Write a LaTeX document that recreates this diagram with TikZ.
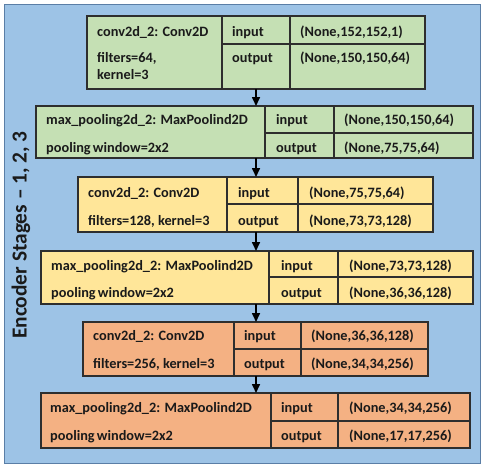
\documentclass[tikz,border=0pt]{standalone}
\usepackage{fontspec}
\setmainfont{Carlito}
\usetikzlibrary{arrows.meta}
\definecolor{bgblue}{HTML}{9DC3E6}
\definecolor{frameblue}{HTML}{5A7EA6}
\definecolor{cgreen}{HTML}{C5E0B4}
\definecolor{cyellow}{HTML}{FFE699}
\definecolor{corange}{HTML}{F4B183}
\definecolor{boxline}{HTML}{2E2E2E}
\definecolor{txt}{HTML}{1A1A1A}
\newcommand{\pw}{pooling\hspace{0.15em}window=2x2}
\begin{document}
\begin{tikzpicture}[x=1pt,y=-1pt,
  layer/.style={draw=boxline,line width=1.3pt,inner sep=0pt,outer sep=0pt,anchor=north west},
  div/.style={draw=boxline,line width=1.1pt},
  lbl/.style={inner sep=0pt,anchor=base west,text=txt,font=\fontsize{14.3}{17}\selectfont\bfseries},
  arr/.style={-{Triangle[width=8pt,length=9pt]},line width=1.6pt,black}]
\useasboundingbox (0,0) rectangle (484,467);
\node[draw=frameblue,fill=bgblue,line width=1pt,inner sep=0pt,outer sep=0pt,anchor=north west,minimum width=476pt,minimum height=459pt] (frame) at (4,4) {};
\node[rotate=90,text=txt,font=\fontsize{21.4}{25}\selectfont\bfseries] (title) at (21,235) {Encoder Stages -- 1, 2, 3};
\coordinate (ax) at (256,0);

% Box 1
\node[layer,fill=cgreen,minimum width=338pt,minimum height=73pt] (b1) at (87,16) {};
\draw[div] (222,16) -- (222,89) (290,16) -- (290,89) (222,44) -- (425,44);
\node[lbl] (b1a) at (97,36) {conv2d\_2: Conv2D};
\node[lbl] (b1b) at (97,62) {filters=64,};
\node[lbl] (b1g) at (97,79) {kernel=3};
\node[lbl] (b1c) at (232,36) {input};
\node[lbl] (b1d) at (232,62) {output};
\node[lbl] (b1e) at (300,36) {(None,152,152,1)};
\node[lbl] (b1f) at (300,62) {(None,150,150,64)};

% Box 2
\node[layer,fill=cgreen,minimum width=437pt,minimum height=52pt] (b2) at (36,106) {};
\draw[div] (265,106) -- (265,158) (334,106) -- (334,158) (265,133) -- (473,133);
\node[lbl] (b2a) at (46,124) {max\_pooling2d\_2: MaxPoolind2D};
\node[lbl] (b2b) at (46,152) {\pw};
\node[lbl] (b2c) at (276,124) {input};
\node[lbl] (b2d) at (276,152) {output};
\node[lbl] (b2e) at (344,124) {(None,150,150,64)};
\node[lbl] (b2f) at (344,152) {(None,75,75,64)};

% Box 3
\node[layer,fill=cyellow,minimum width=355pt,minimum height=55pt] (b3) at (78,177) {};
\draw[div] (227,177) -- (227,232) (298,177) -- (298,232) (227,204) -- (433,204);
\node[lbl] (b3a) at (88,197) {conv2d\_2: Conv2D};
\node[lbl] (b3b) at (88,225) {filters=128, kernel=3};
\node[lbl] (b3c) at (238,197) {input};
\node[lbl] (b3d) at (238,225) {output};
\node[lbl] (b3e) at (309,197) {(None,75,75,64)};
\node[lbl] (b3f) at (309,225) {(None,73,73,128)};

% Box 4
\node[layer,fill=cyellow,minimum width=432pt,minimum height=53pt] (b4) at (41,251) {};
\draw[div] (269,251) -- (269,304) (338,251) -- (338,304) (269,277) -- (473,277);
\node[lbl] (b4a) at (51,270) {max\_pooling2d\_2: MaxPoolind2D};
\node[lbl] (b4b) at (51,297) {\pw};
\node[lbl] (b4c) at (281,270) {input};
\node[lbl] (b4d) at (281,297) {output};
\node[lbl] (b4e) at (349,270) {(None,73,73,128)};
\node[lbl] (b4f) at (349,297) {(None,36,36,128)};

% Box 5
\node[layer,fill=corange,minimum width=345pt,minimum height=54pt] (b5) at (83,322) {};
\draw[div] (234,322) -- (234,376) (301,322) -- (301,376) (234,349) -- (428,349);
\node[lbl] (b5a) at (93,340) {conv2d\_2: Conv2D};
\node[lbl] (b5b) at (93,368) {filters=256, kernel=3};
\node[lbl] (b5c) at (244,340) {input};
\node[lbl] (b5d) at (244,368) {output};
\node[lbl] (b5e) at (311,340) {(None,36,36,128)};
\node[lbl] (b5f) at (311,368) {(None,34,34,256)};

% Box 6
\node[layer,fill=corange,minimum width=429pt,minimum height=55pt] (b6) at (41,393) {};
\draw[div] (271,393) -- (271,448) (338,393) -- (338,448) (271,421) -- (470,421);
\node[lbl] (b6a) at (50,412) {max\_pooling2d\_2: MaxPoolind2D};
\node[lbl] (b6b) at (50,440) {\pw};
\node[lbl] (b6c) at (281,412) {input};
\node[lbl] (b6d) at (281,440) {output};
\node[lbl] (b6e) at (349,412) {(None,34,34,256)};
\node[lbl] (b6f) at (349,440) {(None,17,17,256)};

% Arrows
\draw[arr] (b1.south -| ax) -- (b2.north -| ax);
\draw[arr] (b2.south -| ax) -- (b3.north -| ax);
\draw[arr] (b3.south -| ax) -- (b4.north -| ax);
\draw[arr] (b4.south -| ax) -- (b5.north -| ax);
\draw[arr] (b5.south -| ax) -- (b6.north -| ax);
\end{tikzpicture}
\end{document}
